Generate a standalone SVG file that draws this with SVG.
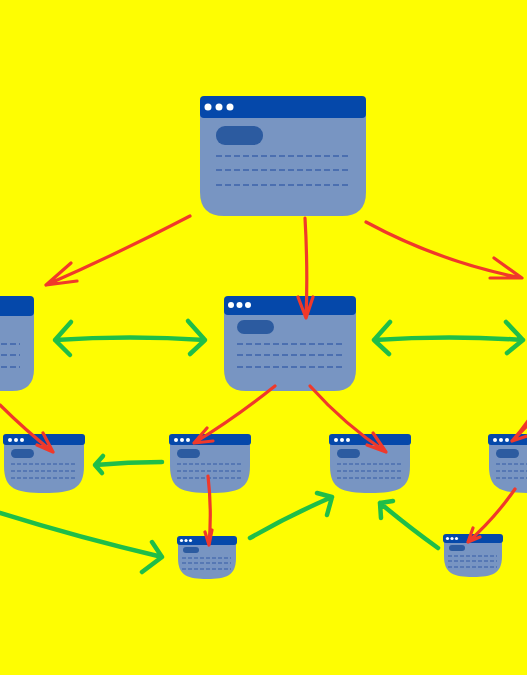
<svg xmlns="http://www.w3.org/2000/svg" width="527" height="675" viewBox="0 0 527 675">
<defs>
<style>
.body{fill:#7895C2}
.hdr{fill:#0548AA}
.dot{fill:#FFFFFF}
.pill{fill:#2C5BA0}
.dash{stroke:#4B6FB0;stroke-width:2;stroke-dasharray:6 3;fill:none}
.dashs{stroke:#4B6FB0;stroke-width:1.3;stroke-dasharray:4 2;fill:none}
.red{stroke:#F0392A;stroke-width:3.2;fill:none;stroke-linecap:round;stroke-linejoin:round}
.green{stroke:#1FBE48;stroke-width:4.5;fill:none;stroke-linecap:round;stroke-linejoin:round}
</style>
</defs>
<rect width="527" height="675" fill="#FEFD02"/>

<g id="node-top">
<path class="body" d="M200,104 H366 V192 Q366,216 342,216 H224 Q200,216 200,192 Z"/>
<rect class="hdr" x="200" y="96" width="166" height="22" rx="4"/>
<circle class="dot" cx="208" cy="107" r="3.5"/><circle class="dot" cx="219" cy="107" r="3.5"/><circle class="dot" cx="230" cy="107" r="3.5"/>
<rect class="pill" x="216" y="126" width="47" height="19" rx="9"/>
<line class="dash" x1="216" y1="156" x2="350" y2="156"/>
<line class="dash" x1="216" y1="170" x2="350" y2="170"/>
<line class="dash" x1="216" y1="185" x2="350" y2="185"/>
</g>

<g id="node-mid-left">
<path class="body" d="M-98,303 H34 V369 Q34,391 12,391 H-76 Q-98,391 -98,369 Z"/>
<rect class="hdr" x="-98" y="296" width="132" height="20" rx="4"/>
<line class="dash" x1="-80" y1="344" x2="20" y2="344"/>
<line class="dash" x1="-80" y1="355" x2="20" y2="355"/>
<line class="dash" x1="-80" y1="367" x2="20" y2="367"/>
</g>

<g id="node-mid-center">
<path class="body" d="M224,303 H356 V369 Q356,391 334,391 H246 Q224,391 224,369 Z"/>
<rect class="hdr" x="224" y="296" width="132" height="19" rx="4"/>
<circle class="dot" cx="231" cy="305" r="3"/><circle class="dot" cx="239.5" cy="305" r="3"/><circle class="dot" cx="248" cy="305" r="3"/>
<rect class="pill" x="237" y="320" width="37" height="14" rx="7"/>
<line class="dash" x1="237" y1="344" x2="342" y2="344"/>
<line class="dash" x1="237" y1="355" x2="342" y2="355"/>
<line class="dash" x1="237" y1="367" x2="342" y2="367"/>
</g>

<g id="node-b1">
<path class="body" d="M4,440 H84 V466 C84,489 72,493 44,493 C16,493 4,489 4,466 Z"/>
<rect class="hdr" x="3" y="434" width="82" height="11" rx="3"/>
<circle class="dot" cx="10" cy="440" r="2"/><circle class="dot" cx="16" cy="440" r="2"/><circle class="dot" cx="22" cy="440" r="2"/>
<rect class="pill" x="11" y="449" width="23" height="9" rx="4.5"/>
<line class="dashs" x1="11" y1="464" x2="76" y2="464"/>
<line class="dashs" x1="11" y1="471" x2="76" y2="471"/>
<line class="dashs" x1="11" y1="478" x2="76" y2="478"/>
</g>

<g id="node-b2">
<path class="body" d="M170,440 H250 V466 C250,489 238,493 210,493 C182,493 170,489 170,466 Z"/>
<rect class="hdr" x="169" y="434" width="82" height="11" rx="3"/>
<circle class="dot" cx="176" cy="440" r="2"/><circle class="dot" cx="182" cy="440" r="2"/><circle class="dot" cx="188" cy="440" r="2"/>
<rect class="pill" x="177" y="449" width="23" height="9" rx="4.5"/>
<line class="dashs" x1="177" y1="464" x2="242" y2="464"/>
<line class="dashs" x1="177" y1="471" x2="242" y2="471"/>
<line class="dashs" x1="177" y1="478" x2="242" y2="478"/>
</g>

<g id="node-b3">
<path class="body" d="M330,440 H410 V466 C410,489 398,493 370,493 C342,493 330,489 330,466 Z"/>
<rect class="hdr" x="329" y="434" width="82" height="11" rx="3"/>
<circle class="dot" cx="336" cy="440" r="2"/><circle class="dot" cx="342" cy="440" r="2"/><circle class="dot" cx="348" cy="440" r="2"/>
<rect class="pill" x="337" y="449" width="23" height="9" rx="4.5"/>
<line class="dashs" x1="337" y1="464" x2="402" y2="464"/>
<line class="dashs" x1="337" y1="471" x2="402" y2="471"/>
<line class="dashs" x1="337" y1="478" x2="402" y2="478"/>
</g>

<g id="node-b4">
<path class="body" d="M489,440 H569 V466 C569,489 557,493 529,493 C501,493 489,489 489,466 Z"/>
<rect class="hdr" x="488" y="434" width="82" height="11" rx="3"/>
<circle class="dot" cx="495" cy="440" r="2"/><circle class="dot" cx="501" cy="440" r="2"/><circle class="dot" cx="507" cy="440" r="2"/>
<rect class="pill" x="496" y="449" width="23" height="9" rx="4.5"/>
<line class="dashs" x1="496" y1="464" x2="561" y2="464"/>
<line class="dashs" x1="496" y1="471" x2="561" y2="471"/>
<line class="dashs" x1="496" y1="478" x2="561" y2="478"/>
</g>

<g id="node-s1">
<path class="body" d="M178,541 H236 V558 C236,576 226,579 207,579 C188,579 178,576 178,558 Z"/>
<rect class="hdr" x="177" y="536" width="60" height="9" rx="3"/>
<circle class="dot" cx="181.5" cy="540.5" r="1.6"/><circle class="dot" cx="186" cy="540.5" r="1.6"/><circle class="dot" cx="190.5" cy="540.5" r="1.6"/>
<rect class="pill" x="183" y="547" width="16" height="6" rx="3"/>
<line class="dashs" x1="182" y1="558" x2="231" y2="558" stroke-width="1"/>
<line class="dashs" x1="182" y1="563" x2="231" y2="563" stroke-width="1"/>
<line class="dashs" x1="182" y1="569" x2="231" y2="569" stroke-width="1"/>
</g>

<g id="node-s2">
<path class="body" d="M444,539 H502 V556 C502,574 492,577 473,577 C454,577 444,574 444,556 Z"/>
<rect class="hdr" x="443" y="534" width="60" height="9" rx="3"/>
<circle class="dot" cx="447.5" cy="538.5" r="1.6"/><circle class="dot" cx="452" cy="538.5" r="1.6"/><circle class="dot" cx="456.5" cy="538.5" r="1.6"/>
<rect class="pill" x="449" y="545" width="16" height="6" rx="3"/>
<line class="dashs" x1="448" y1="556" x2="497" y2="556" stroke-width="1"/>
<line class="dashs" x1="448" y1="561" x2="497" y2="561" stroke-width="1"/>
<line class="dashs" x1="448" y1="567" x2="497" y2="567" stroke-width="1"/>
</g>

<g id="connectors">
<path class="red" d="M190,216 Q115,255 46,285 M71,263 L46,285 L77,281"/>
<path class="red" d="M305,218 Q308,270 306,318 M298,297 L306,318 L313,297"/>
<path class="red" d="M366,222 Q440,262 522,278 M494,258 L522,278 L490,278"/>
<path class="green" d="M55,340 Q130,335 205,340 M71,322 L55,340 L70,355 M188,321 L205,340 L190,354"/>
<path class="green" d="M374,340 Q450,335 523,340 M390,322 L374,340 L389,354 M506,322 L523,340 L507,353"/>
<path class="red" d="M275,386 Q235,418 194,443 M207,428 L194,443 L213,441"/>
<path class="red" d="M310,386 Q345,425 386,452 M373,433 L386,452 L367,445"/>
<path class="red" d="M0,405 Q25,430 53,452 M43,433 L53,452 L37,445"/>
<path class="red" d="M532,415 Q522,430 512,441 M527,426 L512,441 L527,436"/>
<path class="green" d="M162,462 Q128,462 95,465 M103,456 L95,465 L102,473"/>
<path class="red" d="M208,476 Q212,510 209,545 M205,532 L209,545 L212,530"/>
<path class="green" d="M0,513 Q80,538 162,557 M152,542 L162,557 L142,572"/>
<path class="green" d="M250,538 Q290,515 332,497 M317,493 L332,497 L327,515"/>
<path class="green" d="M438,548 Q410,528 380,503 M393,501 L380,503 L381,518"/>
<path class="red" d="M515,489 Q495,518 468,542 M473,528 L468,542 L480,537"/>
</g>
</svg>
